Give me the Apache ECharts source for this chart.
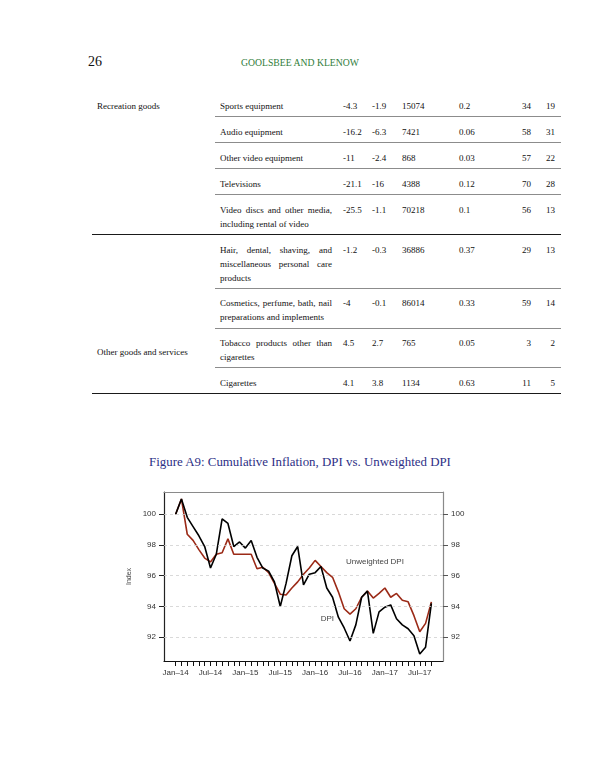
<!DOCTYPE html>
<html>
<head>
<meta charset="utf-8">
<script src="https://cdn.jsdelivr.net/npm/echarts@6/dist/echarts.min.js"></script>
<style>
  html, body { margin:0; padding:0; background:#fff; }
  #page { position:relative; width:600px; height:776px; overflow:hidden; font-family:"Liberation Serif", "DejaVu Serif", serif; color:#111; }
  .t { position:absolute; white-space:nowrap; line-height:14px; font-size:9px; }
  .hl { position:absolute; height:0; }
  #chart { position:absolute; left:0; top:470px; width:600px; height:240px; }
</style>
</head>
<body>
<div id="page">
  <div class="t" style="left:88px; top:54px; font-size:14px; line-height:16px;">26</div>
  <div class="t" style="left:0; width:600px; text-align:center; top:56px; font-size:9.7px; color:#2f7d3a;">GOOLSBEE AND KLENOW</div>
  <div id="table"></div>
  <div class="t" style="left:0; width:600px; text-align:center; top:453px; font-size:12.9px; line-height:18px; color:#2d2f86;">Figure A9: Cumulative Inflation, DPI vs. Unweighted DPI</div>
  <div id="chart"></div>
</div>
<script>
// ---------------- table data ----------------
const groupNames = ['Recreation goods', 'Other goods and services'];
const itemLines = [
  ['Sports equipment'],
  ['Audio equipment'],
  ['Other video equipment'],
  ['Televisions'],
  ['Video discs and other media,', 'including rental of video'],
  ['Hair, dental, shaving, and', 'miscellaneous personal care', 'products'],
  ['Cosmetics, perfume, bath, nail', 'preparations and implements'],
  ['Tobacco products other than', 'cigarettes'],
  ['Cigarettes']
];
const colA = ['-4.3', '-16.2', '-11', '-21.1', '-25.5', '-1.2', '-4', '4.5', '4.1'];
const colB = ['-1.9', '-6.3', '-2.4', '-16', '-1.1', '-0.3', '-0.1', '2.7', '3.8'];
const colC = ['15074', '7421', '868', '4388', '70218', '36886', '86014', '765', '1134'];
const colD = ['0.2', '0.06', '0.03', '0.12', '0.1', '0.37', '0.33', '0.05', '0.63'];
const colE = ['34', '58', '57', '70', '56', '29', '59', '3', '11'];
const colF = ['19', '31', '22', '28', '13', '13', '14', '2', '5'];

// ---------------- chart data ----------------
const monthLabels = ['Jan\u201314', 'Jul\u201314', 'Jan\u201315', 'Jul\u201315', 'Jan\u201316', 'Jul\u201316', 'Jan\u201317', 'Jul\u201317'];
const dpi = [100, 101.0, 99.8, 99.2, 98.6, 97.9, 96.5, 97.4, 99.7, 99.4,
             97.9, 98.2, 97.8, 98.3, 97.2, 96.5, 96.3, 95.6, 94.0, 95.5,
             97.3, 97.9, 95.4, 96.1, 96.2, 96.6, 95.2, 94.6, 93.3, 92.6,
             91.75, 92.8, 94.6, 95.0, 92.25, 93.65, 93.95, 94.1, 93.2, 92.8,
             92.55, 92.1, 90.9, 91.35, 94.2];
const unweighted = [100, 101.0, 98.7, 98.3, 97.7, 97.15, 96.9, 97.4, 97.5, 98.4,
             97.4, 97.4, 97.4, 97.4, 96.45, 96.55, 96.2, 95.5, 94.8, 94.75,
             95.2, 95.6, 96.1, 96.5, 97.0, 96.6, 96.2, 95.9, 94.95, 93.85,
             93.5, 93.85, 94.6, 95.0, 94.55, 94.85, 95.2, 94.6, 94.85, 94.4,
             94.3, 93.4, 92.35, 92.9, 94.3];
const yTicks = [92, 94, 96, 98, 100];

// ---------------- build table ----------------
(function () {
  const tbl = document.getElementById('table');
  const rowY = [105.7, 132.3, 158.3, 184.3, 210, 250, 303.3, 343.3, 383.3];
  const sepY = [116.7, 142.7, 169, 195, 288.7, 328.3, 367.7];
  const thickY = [235, 394];
  const LH = 14;
  function add(html, style) {
    const d = document.createElement('div');
    d.className = 't';
    d.style.cssText = style;
    d.textContent = html;
    tbl.appendChild(d);
    return d;
  }
  add(groupNames[0], 'left:97px; top:' + (105.7 - 7) + 'px;');
  add(groupNames[1], 'left:97px; top:' + (351.7 - 7) + 'px;');
  itemLines.forEach((lines, i) => {
    const y0 = rowY[i] - 7;
    lines.forEach((ln, k) => {
      const last = k === lines.length - 1;
      add(ln, 'left:220px; top:' + (y0 + k * LH) + 'px; width:112px; white-space:normal; text-align:' + (last ? 'left' : 'justify') + '; text-align-last:' + (last ? 'left' : 'justify') + ';');
    });
    add(colA[i], 'left:343px; top:' + y0 + 'px;');
    add(colB[i], 'left:372px; top:' + y0 + 'px;');
    add(colC[i], 'left:402px; top:' + y0 + 'px;');
    add(colD[i], 'left:459px; top:' + y0 + 'px;');
    add(colE[i], 'left:491px; width:40px; text-align:right; top:' + y0 + 'px;');
    add(colF[i], 'left:515px; width:40px; text-align:right; top:' + y0 + 'px;');
  });
  sepY.forEach(y => {
    const d = document.createElement('div');
    d.className = 'hl';
    d.style.cssText = 'left:215px; width:346px; top:' + (y - 0.6) + 'px; border-top:1.3px solid #8c8c8c;';
    tbl.appendChild(d);
  });
  thickY.forEach(y => {
    const d = document.createElement('div');
    d.className = 'hl';
    d.style.cssText = 'left:92px; width:469px; top:' + (y - 0.8) + 'px; border-top:1.6px solid #1a1a1a;';
    tbl.appendChild(d);
  });
})();

// ---------------- chart ----------------
const chart = echarts.init(document.getElementById('chart'), null, { renderer: 'canvas' });
const months = dpi.map((_, i) => i);
const labelMonths = monthLabels.map((_, k) => k * 6);
const axisFont = { fontFamily: 'Liberation Sans, Arial, sans-serif', fontSize: 8, color: '#333' };

const option = {
  animation: false,
  grid: { left: 164, right: 157, top: 22, bottom: 49 },
  xAxis: [
    {
      type: 'value', min: -2, max: 46, position: 'bottom',
      axisLine: { show: true, onZero: false, lineStyle: { color: '#111', width: 1.2 } },
      axisTick: { show: true, customValues: months, length: 5, lineStyle: { color: '#111', width: 1 } },
      axisLabel: Object.assign({ customValues: labelMonths, margin: 8, formatter: v => monthLabels[Math.round(v / 6)] }, axisFont),
      splitLine: { show: false }
    },
    {
      type: 'value', min: -2, max: 46, position: 'top',
      axisLine: { show: true, onZero: false, lineStyle: { color: '#8a8a8a', width: 1.2 } },
      axisTick: { show: false }, axisLabel: { show: false }, splitLine: { show: false }
    }
  ],
  yAxis: [
    {
      type: 'value', min: 90.45, max: 101.45, position: 'left',
      name: 'Index', nameLocation: 'middle', nameGap: 31, nameRotate: 90,
      nameTextStyle: { fontFamily: 'Liberation Sans, Arial, sans-serif', fontSize: 7, color: '#444' },
      axisLine: { show: true, onZero: false, lineStyle: { color: '#222', width: 1.2 } },
      axisTick: { show: true, customValues: yTicks, length: 5, lineStyle: { color: '#222' } },
      axisLabel: Object.assign({ customValues: yTicks, margin: 8 }, axisFont),
      splitLine: { show: false }
    },
    {
      type: 'value', min: 90.45, max: 101.45, position: 'right',
      axisLine: { show: true, onZero: false, lineStyle: { color: '#8a8a8a', width: 1.2 } },
      axisTick: { show: true, customValues: yTicks, length: 5, lineStyle: { color: '#555' } },
      axisLabel: Object.assign({ customValues: yTicks, margin: 8 }, axisFont),
      splitLine: { show: false }
    }
  ],
  series: [
    {
      name: 'Unweighted DPI', type: 'line', xAxisIndex: 0, yAxisIndex: 0,
      data: months.map(i => [i, unweighted[i]]),
      showSymbol: false, lineStyle: { color: '#9b2a17', width: 1.6 }, z: 3,
      markLine: {
        silent: true, symbol: 'none', label: { show: false },
        lineStyle: { color: '#cfcfcf', type: [3, 3], width: 0.8 },
        data: yTicks.map(v => ({ yAxis: v }))
      },
      markPoint: {
        symbol: 'circle', symbolSize: 0,
        label: { show: true, position: 'inside', formatter: '{b}', fontFamily: 'Liberation Sans, Arial, sans-serif', fontSize: 8, color: '#444' },
        data: [{ name: 'Unweighted DPI', coord: [34.3, 96.9] }]
      }
    },
    {
      name: 'DPI', type: 'line', xAxisIndex: 0, yAxisIndex: 0,
      data: months.map(i => [i, dpi[i]]),
      showSymbol: false, lineStyle: { color: '#000', width: 1.6 }, z: 4,
      markPoint: {
        symbol: 'circle', symbolSize: 0,
        label: { show: true, position: 'inside', formatter: '{b}', fontFamily: 'Liberation Sans, Arial, sans-serif', fontSize: 8, color: '#444' },
        data: [{ name: 'DPI', coord: [26.1, 93.2] }]
      }
    }
  ]
};
chart.setOption(option);
</script>
</body>
</html>
